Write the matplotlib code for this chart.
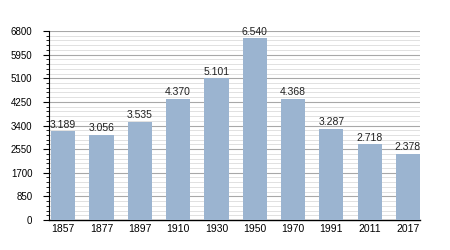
import numpy as np
import matplotlib.pyplot as plt
from matplotlib.ticker import MultipleLocator

years = ['1857', '1877', '1897', '1910', '1930', '1950', '1970', '1991', '2011', '2017']
population = [3189, 3056, 3535, 4370, 5101, 6540, 4368, 3287, 2718, 2378]
bar_labels = ['3.189', '3.056', '3.535', '4.370', '5.101', '6.540', '4.368', '3.287', '2.718', '2.378']

plt.rcParams['font.family'] = ['Liberation Sans', 'DejaVu Sans']

fig = plt.figure(figsize=(4.5, 2.5), dpi=100)
ax = fig.add_axes([0.109, 0.12, 0.824, 0.756])

x = np.arange(len(years))
ax.bar(x, population, width=0.63, color='#9bb4d0', zorder=3)
for xi, v, lab in zip(x, population, bar_labels):
    ax.text(xi, v + 60, lab, ha='center', va='bottom', fontsize=7.5, color='#222222', zorder=4)

ax.set_ylim(0, 6800)
ax.set_xlim(-0.37, 9.31)
ax.yaxis.set_major_locator(MultipleLocator(850))
ax.yaxis.set_minor_locator(MultipleLocator(170))
ax.grid(True, which='major', axis='y', color='#a8a8a8', linewidth=0.8, zorder=0)
ax.grid(True, which='minor', axis='y', color='#dcdcdc', linewidth=0.6, zorder=0)

ax.set_xticks(x)
ax.set_xticklabels(years)
ax.tick_params(axis='x', length=0, labelsize=7.5, pad=3)
ax.tick_params(axis='y', which='major', length=4, width=0.8, labelsize=7, pad=8)
ax.tick_params(axis='y', which='minor', length=2, width=0.6)

for s in ['top', 'right']:
    ax.spines[s].set_visible(False)
ax.spines['left'].set_linewidth(0.8)
ax.spines['bottom'].set_linewidth(1.0)

fig.savefig('out.png', dpi=100)
